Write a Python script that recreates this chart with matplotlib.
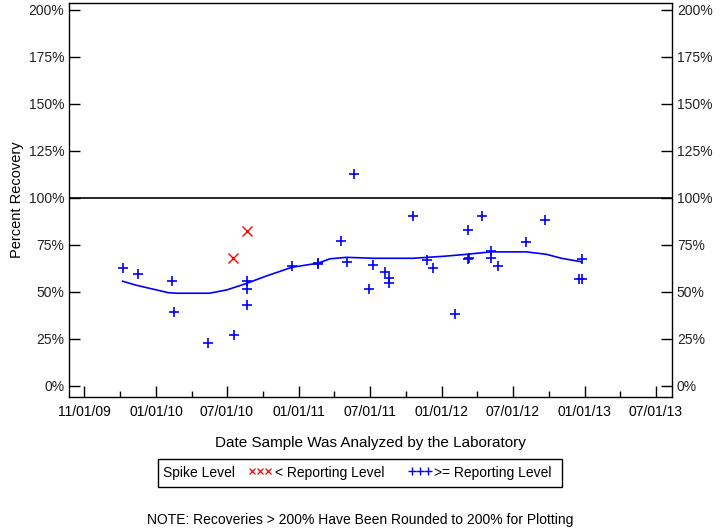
import matplotlib
matplotlib.use("Agg")
import matplotlib.pyplot as plt
from matplotlib.lines import Line2D
from matplotlib.patches import Rectangle
from matplotlib.ticker import FuncFormatter
import pandas as pd

plt.rcParams["font.family"] = ["Liberation Sans", "DejaVu Sans"]

# ---- data ----
ge_dates = ["2009-10-07", "2009-11-16", "2010-02-11", "2010-02-16", "2010-05-13",
            "2010-07-20", "2010-08-21", "2010-08-21", "2010-08-21", "2010-12-14",
            "2011-02-18", "2011-02-20", "2011-04-18", "2011-05-04", "2011-05-22",
            "2011-06-30", "2011-07-10", "2011-08-09", "2011-08-20", "2011-08-20",
            "2011-10-20", "2011-11-25", "2011-12-11", "2012-02-03", "2012-03-08",
            "2012-03-10", "2012-03-09", "2012-04-13", "2012-05-06", "2012-05-06",
            "2012-05-25", "2012-08-04", "2012-09-21", "2012-12-16", "2012-12-24",
            "2012-12-24"]
ge_pct = [62.8, 59.7, 55.9, 39.5, 23.0,
          27.0, 55.9, 51.4, 43.1, 63.7,
          64.7, 65.3, 77.0, 66.0, 112.6,
          51.4, 64.2, 60.5, 57.4, 54.9,
          90.3, 66.8, 62.8, 38.1, 67.7,
          67.9, 82.8, 90.3, 71.6, 68.1,
          63.7, 76.6, 88.4, 56.7, 56.7,
          67.6]

lt_dates = ["2010-07-16", "2010-08-21"]
lt_pct = [68.2, 82.4]

trend_dates = ["2009-10-07", "2009-11-12", "2010-02-01", "2010-02-23", "2010-05-17",
               "2010-07-01", "2010-08-21", "2010-10-10", "2010-12-14", "2011-02-19",
               "2011-03-21", "2011-05-03", "2011-07-10", "2011-10-20", "2012-01-09",
               "2012-03-04", "2012-05-06", "2012-08-05", "2012-09-25", "2012-11-02",
               "2012-12-19", "2012-12-24"]
trend_pct = [55.7, 53.5, 49.6, 49.3, 49.3,
             51.1, 54.6, 58.5, 63.1, 65.3,
             67.6, 68.4, 67.9, 67.9, 69.0,
             70.0, 71.3, 71.3, 70.0, 67.9,
             66.2, 66.0]

tick_dates = ["2009-07-01", "2010-01-01", "2010-07-01", "2011-01-01", "2011-07-01",
              "2012-01-01", "2012-07-01", "2013-01-01", "2013-07-01"]
tick_labels = ["11/01/09", "01/01/10", "07/01/10", "01/01/11", "07/01/11",
               "01/01/12", "07/01/12", "01/01/13", "07/01/13"]
y_ticks = [0, 25, 50, 75, 100, 125, 150, 175, 200]

BLUE = "#0000FF"
RED = "#FF0000"

fig = plt.figure(figsize=(7.2, 5.28), dpi=100)
ax = fig.add_axes([69 / 720, 1 - 397 / 528, 603 / 720, 394 / 528])

ax.plot(pd.to_datetime(trend_dates), trend_pct, color=BLUE, lw=1.2, zorder=3)
ax.plot(pd.to_datetime(ge_dates), ge_pct, ls="none", marker="+", ms=7, mew=1.2,
        color=BLUE, zorder=4)
ax.plot(pd.to_datetime(lt_dates), lt_pct, ls="none", marker="x", ms=6.5, mew=1.0,
        color=RED, zorder=4)
ax.axhline(100, color="black", lw=1.2, zorder=2)

ax.set_xlim(pd.Timestamp("2009-05-23"), pd.Timestamp("2013-08-12"))
ax.set_ylim(-5.9, 203.7)

ticks = pd.to_datetime(tick_dates)
ax.set_xticks(ticks)
ax.set_xticklabels(tick_labels, fontsize=10)
minor = [ticks[i] + (ticks[i + 1] - ticks[i]) / 2 for i in range(len(ticks) - 1)]
ax.set_xticks(minor, minor=True)
ax.tick_params(axis="x", which="major", direction="in", length=8, width=1, pad=6)
ax.tick_params(axis="x", which="minor", direction="in", length=4, width=1)

ax.set_yticks(y_ticks)
ax.yaxis.set_major_formatter(FuncFormatter(lambda v, _: f"{int(v)}%"))
ax.tick_params(axis="y", which="major", direction="in", length=8, width=1,
               labelsize=10, left=True, right=True, labelleft=True, labelright=True)
for lbl in ax.get_yticklabels():
    lbl.set_color("#222222")

for s in ax.spines.values():
    s.set_linewidth(1.0)

ax.set_ylabel("Percent Recovery", fontsize=10.5, labelpad=3)
ax.set_xlabel("Date Sample Was Analyzed by the Laboratory", fontsize=11, labelpad=12)

# legend box drawn by hand
fig.add_artist(Rectangle((158 / 720, 1 - 487 / 528), 404 / 720, 28 / 528,
                         transform=fig.transFigure, fill=False, ec="black", lw=1.0))
ly = 1 - 473 / 528
fig.text(163 / 720, ly, "Spike Level", fontsize=10, va="center", ha="left")
fig.add_artist(Line2D([252 / 720, 260 / 720, 268 / 720], [ly + 2 / 528] * 3,
                      transform=fig.transFigure, ls="none", marker="x", ms=5,
                      mew=0.9, color=RED))
fig.text(275 / 720, ly, "< Reporting Level", fontsize=10, va="center", ha="left")
fig.add_artist(Line2D([412 / 720, 420 / 720, 428 / 720], [ly + 2 / 528] * 3,
                      transform=fig.transFigure, ls="none", marker="+", ms=6,
                      mew=1.0, color=BLUE))
fig.text(434 / 720, ly, ">= Reporting Level", fontsize=10, va="center", ha="left")

fig.text(0.5, 1 - 520 / 528, "NOTE: Recoveries > 200% Have Been Rounded to 200% for Plotting",
         fontsize=10, ha="center", va="center")

fig.savefig("out.png", dpi=100, facecolor="white")
